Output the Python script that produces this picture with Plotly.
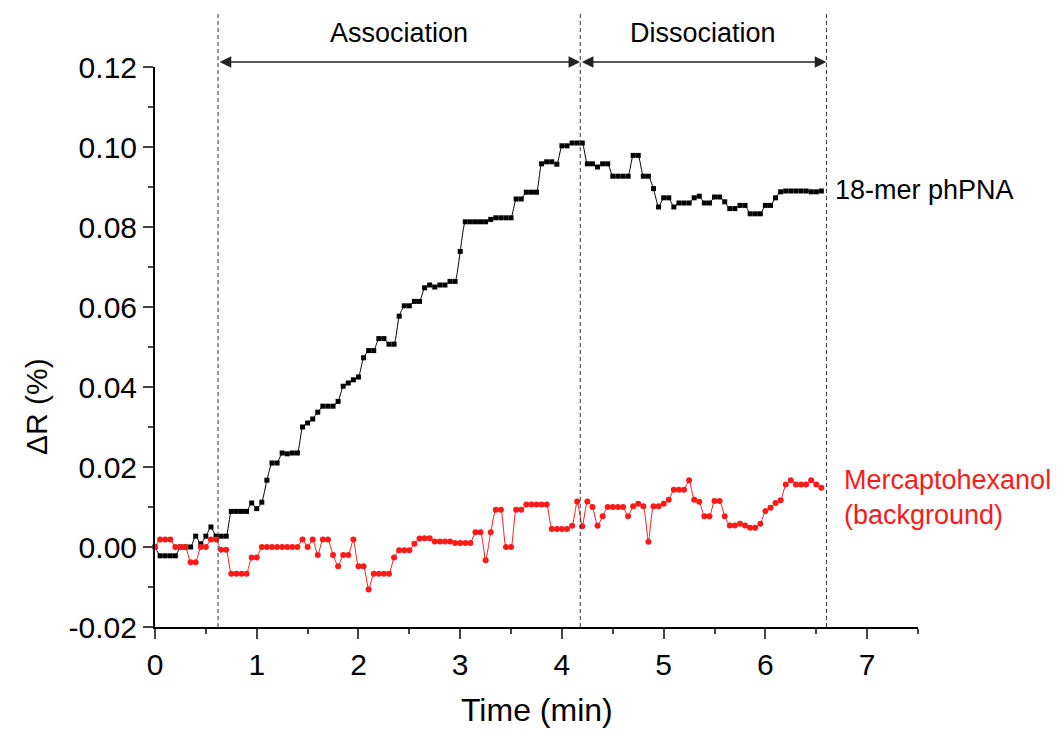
import plotly.graph_objects as go

# ---- data ----
dt_min = 0.05
phpna = [0, -0.0022, -0.0022, -0.0022, -0.0022, 0, 0, 0, 0.0027, 0.0008,
         0.0027, 0.005, 0.0027, 0.0027, 0.0027, 0.0089, 0.0089, 0.0089, 0.0089, 0.011,
         0.0096, 0.0112, 0.0167, 0.021, 0.021, 0.0235, 0.0233, 0.0235, 0.0235, 0.03,
         0.031, 0.032, 0.0337, 0.0352, 0.0352, 0.0352, 0.0364, 0.0402, 0.041, 0.0418,
         0.0425, 0.0473, 0.0491, 0.0491, 0.0521, 0.0521, 0.0507, 0.0507, 0.0577, 0.0603,
         0.0603, 0.0614, 0.0614, 0.0648, 0.0655, 0.065, 0.0655, 0.0655, 0.0664, 0.0664,
         0.0739, 0.0813, 0.0813, 0.0813, 0.0813, 0.0813, 0.0819, 0.0823, 0.0823, 0.0823,
         0.0823, 0.087, 0.087, 0.0887, 0.0887, 0.0887, 0.0958, 0.0963, 0.0963, 0.0957,
         0.1003, 0.1003, 0.101, 0.101, 0.101, 0.0958, 0.0958, 0.095, 0.0958, 0.0958,
         0.0927, 0.0927, 0.0927, 0.0927, 0.0979, 0.0979, 0.0927, 0.0927, 0.0896, 0.085,
         0.0873, 0.0873, 0.085, 0.086, 0.086, 0.086, 0.0873, 0.0877, 0.086, 0.086,
         0.0875, 0.0875, 0.0863, 0.0846, 0.0846, 0.0854, 0.0854, 0.0833, 0.0833, 0.0833,
         0.0854, 0.0854, 0.0873, 0.0888, 0.089, 0.089, 0.089, 0.089, 0.089, 0.0888,
         0.0888, 0.089]
background = [0, 0.0019, 0.0019, 0.0019, 0, 0, 0, -0.0038, -0.0038, 0,
              0, 0.0019, 0.0019, -0.0007, -0.0007, -0.0067, -0.0067, -0.0067, -0.0067, -0.0026,
              -0.0026, 0, 0, 0, 0, 0, 0, 0, 0, 0.0019,
              0, 0.0019, -0.002, 0.0019, 0.0019, -0.002, -0.0048, -0.002, -0.002, 0.0019,
              -0.0048, -0.0048, -0.0106, -0.0067, -0.0067, -0.0067, -0.0067, -0.0026, -0.0008, -0.0008,
              -0.0008, 0.0008, 0.0021, 0.0022, 0.0022, 0.0014, 0.0014, 0.0014, 0.0014, 0.001,
              0.001, 0.001, 0.001, 0.0037, 0.0037, -0.0033, 0.0037, 0.0093, 0.0093, 0,
              0, 0.0093, 0.0093, 0.0106, 0.0106, 0.0106, 0.0106, 0.0106, 0.0045, 0.0045,
              0.0045, 0.0045, 0.0053, 0.0114, 0.0052, 0.0114, 0.01, 0.0053, 0.0077, 0.01,
              0.01, 0.01, 0.01, 0.0077, 0.0102, 0.0108, 0.0102, 0.0013, 0.0102, 0.0102,
              0.0108, 0.0118, 0.0143, 0.0143, 0.0143, 0.0167, 0.0118, 0.0113, 0.0077, 0.0077,
              0.0115, 0.0115, 0.0077, 0.0054, 0.0054, 0.0058, 0.0054, 0.0048, 0.0048, 0.0058,
              0.009, 0.0098, 0.011, 0.0117, 0.0156, 0.0167, 0.0156, 0.0156, 0.0156, 0.0167,
              0.0156, 0.0148]
time_min = [round(i * dt_min, 3) for i in range(len(phpna))]

phase_bounds = [0.62, 4.18, 6.6]
phase_names = ["Association", "Dissociation"]

x_ticks = [0, 1, 2, 3, 4, 5, 6, 7]
x_minor = [0.5, 1.5, 2.5, 3.5, 4.5, 5.5, 6.5, 7.5]
y_ticks = [-0.02, 0.0, 0.02, 0.04, 0.06, 0.08, 0.10, 0.12]
y_ticktext = ["-0.02", "0.00", "0.02", "0.04", "0.06", "0.08", "0.10", "0.12"]
y_minor = [-0.01, 0.01, 0.03, 0.05, 0.07, 0.09, 0.11]

FONT = "Liberation Sans, Arial, sans-serif"
RED = "#ff1a1a"

# page body has an 8px margin; plot area spans page px x 155..918, y 67..627
W, H = 1051, 721
ML, MR, MT, MB = 147, 141, 59, 102
PW, PH = W - ML - MR, H - MT - MB


def px_to_paper_x(px):
    return (px - 8 - ML) / PW


def px_to_paper_y(py):
    return (H - MB - (py - 8)) / PH


fig = go.Figure()
fig.add_trace(go.Scatter(
    x=time_min, y=phpna, mode="lines+markers",
    line=dict(color="black", width=1, shape="spline", smoothing=0.5),
    marker=dict(symbol="square", size=5, color="black"),
    showlegend=False, cliponaxis=False))
fig.add_trace(go.Scatter(
    x=time_min, y=background, mode="lines+markers",
    line=dict(color=RED, width=1, shape="spline", smoothing=0.5),
    marker=dict(symbol="circle", size=6, color=RED),
    showlegend=False, cliponaxis=False))

# dashed phase boundaries
for xb in phase_bounds:
    fig.add_shape(type="line", xref="x", yref="paper", x0=xb, x1=xb,
                  y0=0, y1=px_to_paper_y(12),
                  line=dict(color="#333333", width=1, dash="4px,3px"))

# double-headed arrows and phase labels
for i, name in enumerate(phase_names):
    x0, x1 = phase_bounds[i], phase_bounds[i + 1]
    fig.add_annotation(x=x1, y=px_to_paper_y(62), xref="x", yref="paper",
                       ax=x0, ay=0, axref="x", ayref="pixel",
                       text="", showarrow=True, arrowhead=2, arrowside="end+start",
                       arrowsize=1.8, arrowwidth=1.3, arrowcolor="#222222",
                       startarrowhead=2, startarrowsize=1.8)
    fig.add_annotation(x=(x0 + x1) / 2, y=px_to_paper_y(33), xref="x", yref="paper",
                       text=name, showarrow=False, xanchor="center", yanchor="middle",
                       font=dict(family=FONT, size=27, color="black"))

# series labels
fig.add_annotation(x=6.667, y=0.0892, xref="x", yref="y", text="18-mer phPNA",
                   showarrow=False, xanchor="left", yanchor="middle",
                   font=dict(family=FONT, size=27, color="black"))
fig.add_annotation(x=6.756, y=0.0124, xref="x", yref="y",
                   text="Mercaptohexanol<br>(background)", align="left",
                   showarrow=False, xanchor="left", yanchor="middle",
                   font=dict(family=FONT, size=27, color=RED))

# axis titles
fig.add_annotation(x=px_to_paper_x(36), y=px_to_paper_y(407), xref="paper", yref="paper",
                   text="ΔR (%)", textangle=-90, showarrow=False,
                   xanchor="center", yanchor="middle",
                   font=dict(family=FONT, size=30, color="black"))
fig.add_annotation(x=0.5, y=px_to_paper_y(710), xref="paper", yref="paper",
                   text="Time (min)", showarrow=False,
                   xanchor="center", yanchor="middle",
                   font=dict(family=FONT, size=32, color="black"))

fig.update_layout(
    width=W, height=H,
    margin=dict(l=ML, r=MR, t=MT, b=MB, pad=0, autoexpand=False),
    paper_bgcolor="white", plot_bgcolor="white",
    font=dict(family=FONT, color="black"),
    xaxis=dict(range=[0, 7.5], tickvals=x_ticks, ticks="outside", ticklen=10, tickwidth=2,
               showline=True, linewidth=2, linecolor="black", showgrid=False, zeroline=False,
               tickfont=dict(size=30), automargin=False,
               minor=dict(tickvals=x_minor, ticks="outside", ticklen=5, tickwidth=2,
                          showgrid=False)),
    yaxis=dict(range=[-0.02, 0.12], tickvals=y_ticks, ticktext=y_ticktext, ticks="outside",
               ticklen=10, tickwidth=2, showline=True, linewidth=2, linecolor="black",
               showgrid=False, zeroline=False, tickfont=dict(size=30), automargin=False,
               minor=dict(tickvals=y_minor, ticks="outside", ticklen=5, tickwidth=2,
                          showgrid=False)),
)

fig.write_html("out.html")
